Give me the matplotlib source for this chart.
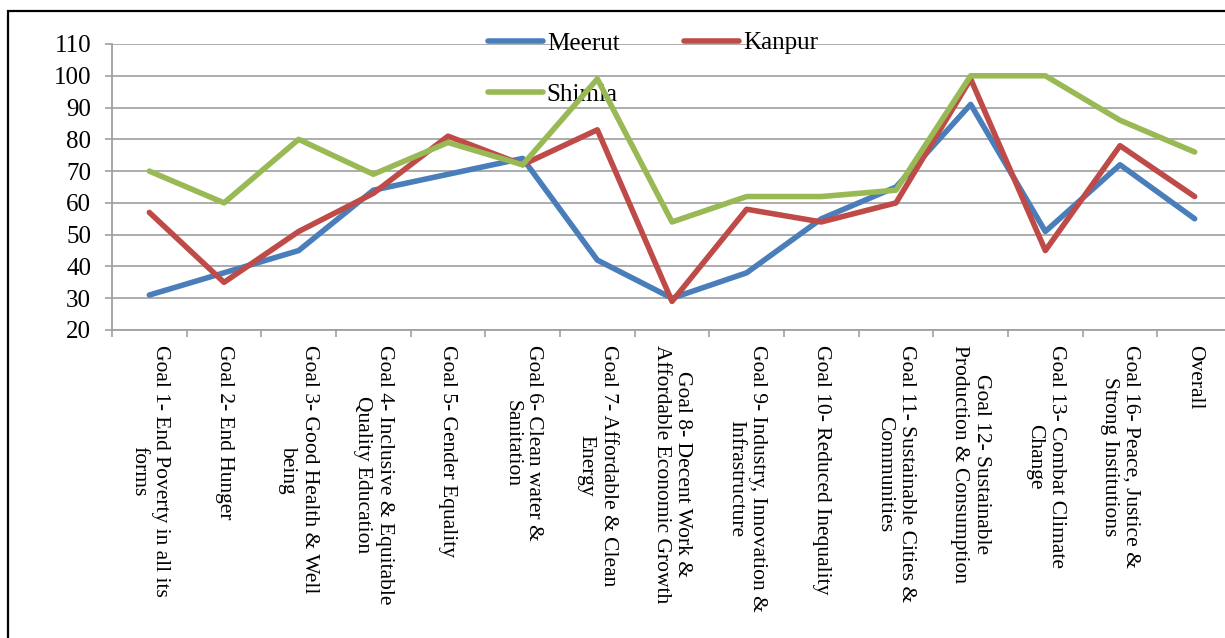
import numpy as np
import matplotlib.pyplot as plt
from matplotlib.patches import Rectangle

goals = ["Goal 1- End Poverty in all its\nforms",
         "Goal 2- End Hunger",
         "Goal 3- Good Health & Well\nbeing",
         "Goal 4- Inclusive & Equitable\nQuality Education",
         "Goal 5- Gender Equality",
         "Goal 6- Clean water &\nSanitation",
         "Goal 7- Affordable & Clean\nEnergy",
         "Goal 8- Decent Work &\nAffordable Economic Growth",
         "Goal 9- Industry, Innovation &\nInfrastructure",
         "Goal 10- Reduced Inequality",
         "Goal 11- Sustainable Cities &\nCommunities",
         "Goal 12- Sustainable\nProduction & Consumption",
         "Goal 13- Combat Climate\nChange",
         "Goal 16- Peace, Justice &\nStrong Institutions",
         "Overall"]
meerut = [31, 38, 45, 64, 69, 74, 42, 30, 38, 55, 65, 91, 51, 72, 55]
kanpur = [57, 35, 51, 63, 81, 72, 83, 29, 58, 54, 60, 99, 45, 78, 62]
shimla = [70, 60, 80, 69, 79, 72, 99, 54, 62, 62, 64, 100, 100, 86, 76]

plt.rcParams['font.family'] = ['Liberation Serif', 'DejaVu Serif']

W, H = 1225, 638
fig = plt.figure(figsize=(W/100, H/100), dpi=100)
ax = fig.add_axes([112/W, 1 - 330/H, (1232-112)/W, (330-44)/H])

x = np.arange(len(goals))
l1, = ax.plot(x, meerut, color='#4A7EBB', lw=4, label='Meerut', zorder=3, solid_capstyle='round')
l2, = ax.plot(x, kanpur, color='#BE4B48', lw=4, label='Kanpur', zorder=3, solid_capstyle='round')
l3, = ax.plot(x, shimla, color='#98B954', lw=4, label='Shimla', zorder=3, solid_capstyle='round')

ax.set_xlim(-0.5, len(goals) - 0.5)
ax.set_ylim(20, 110)
ax.set_yticks(np.arange(20, 111, 10))
ax.set_xticks(x)
ax.set_xticklabels(goals, rotation=270, ha='center', va='top',
                   multialignment='center', fontsize=15.5)
ax.set_xticks(np.arange(-0.5, len(goals)), minor=True)
ax.tick_params(axis='x', which='major', length=0, pad=11)
ax.tick_params(axis='x', which='minor', length=5, width=1.2, color='#A0A0A0')
ax.tick_params(axis='y', length=5, width=1.2, color='#A0A0A0', labelsize=18, pad=10)

ax.grid(axis='y', color='#A6A6A6', lw=1.3)
ax.set_axisbelow(True)
for s in ['top', 'right']:
    ax.spines[s].set_visible(False)
for s in ['left', 'bottom']:
    ax.spines[s].set_color('#A0A0A0')
    ax.spines[s].set_linewidth(1.3)

# column-wise fill: Meerut/Shimla in first column, Kanpur in second
leg = ax.legend([l1, l3, l2], ['Meerut', 'Shimla', 'Kanpur'],
                loc='upper left', bbox_to_anchor=(488/W, 1 - 32/H),
                bbox_transform=fig.transFigure, ncol=2, frameon=False,
                fontsize=18, handlelength=2.2, handletextpad=0.15,
                columnspacing=2.6, labelspacing=1.15, borderpad=0,
                borderaxespad=0)
leg.set_zorder(1)

fig.patches.append(Rectangle((8/W, -0.1), 1.2, 1 - 11/H + 0.1, transform=fig.transFigure,
                             fill=False, edgecolor='black', lw=1.6))

fig.savefig('out.png', dpi=100)
